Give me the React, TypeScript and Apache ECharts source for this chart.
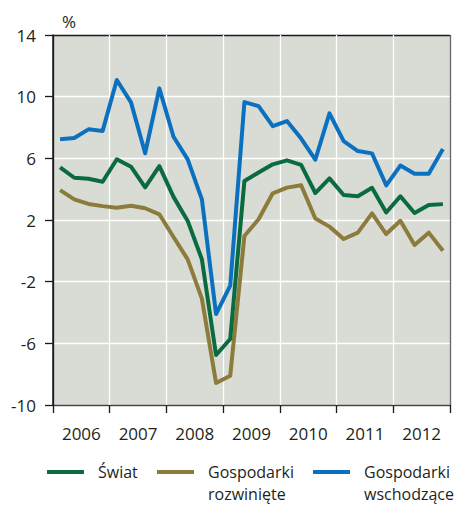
import React, { useEffect, useRef } from "react";
import * as echarts from "echarts";

const years = ["2006", "2007", "2008", "2009", "2010", "2011", "2012"];
const quartersPerYear = 4;
const yTicks = { min: -10, max: 14, step: 4 };

const world = [5.42, 4.74, 4.68, 4.48, 5.94, 5.46, 4.12, 5.5, 3.5, 1.94, -0.55, -6.76, -5.72, 4.53, 5.08, 5.61, 5.87, 5.57, 3.75, 4.7, 3.62, 3.54, 4.09, 2.49, 3.54, 2.45, 2.97, 3.03];
const developed = [3.94, 3.34, 3.04, 2.9, 2.8, 2.93, 2.76, 2.37, 0.9, -0.55, -3.1, -8.57, -8.1, 0.96, 2.05, 3.73, 4.1, 4.25, 2.1, 1.57, 0.77, 1.18, 2.43, 1.09, 1.95, 0.38, 1.18, 0.0];
const emerging = [7.24, 7.32, 7.88, 7.78, 11.08, 9.63, 6.33, 10.54, 7.4, 5.93, 3.34, -4.1, -2.26, 9.65, 9.39, 8.09, 8.42, 7.28, 5.91, 8.92, 7.12, 6.47, 6.32, 4.25, 5.53, 5.0, 5.0, 6.6];

const seriesNames = ["Świat", "Gospodarki\nrozwinięte", "Gospodarki\nwschodzące"];
const colors = ["#0b6b40", "#8d7b3b", "#0a70bf"];

const FONT = '"Open Sans", "Noto Sans", sans-serif';
const TEXT = "#231f20";

export default function App() {
  const ref = useRef<HTMLDivElement>(null);
  useEffect(() => {
    if (!ref.current) return;
    const chart = echarts.init(ref.current, undefined, { renderer: "svg" });
    const nQ = years.length * quartersPerYear;
    const toPts = (arr: number[]) => arr.map((v, i) => [i + 0.5, v]);
    const ySplitCount = (yTicks.max - yTicks.min) / yTicks.step + 1;
    const ySplitColors = Array.from({ length: ySplitCount }, (_, i) =>
      i === 0 ? "#555555" : i === ySplitCount - 1 ? "#1a1a1a" : "#ffffff"
    );
    const xSplitCount = years.length + 1;
    const xSplitColors = Array.from({ length: xSplitCount }, (_, i) =>
      i === 0 ? "#1a1a1a" : i === xSplitCount - 1 ? "#666666" : "#ffffff"
    );
    const data = [world, developed, emerging];

    const legendItems: any[] = [];
    const legendX = [47, 157, 313];
    seriesNames.forEach((name, i) => {
      legendItems.push({
        type: "line",
        shape: { x1: legendX[i], y1: 472, x2: legendX[i] + 37, y2: 472 },
        style: { stroke: colors[i], lineWidth: 4 },
      });
      legendItems.push({
        type: "text",
        x: legendX[i] + 51,
        y: 461,
        style: {
          text: name,
          font: `16px ${FONT}`,
          fill: TEXT,
          lineHeight: 22,
          textVerticalAlign: "top",
          verticalAlign: "top",
        },
      });
    });

    chart.setOption({
      animation: false,
      textStyle: { fontFamily: FONT },
      grid: {
        left: 53,
        top: 35,
        width: 397,
        height: 370,
        show: true,
        backgroundColor: "#d8dcd5",
        borderWidth: 0,
      },
      xAxis: [
        {
          type: "value",
          min: 0,
          max: nQ,
          interval: quartersPerYear,
          axisLine: { show: true, onZero: false, lineStyle: { color: "#444", width: 1 } },
          axisTick: { show: true, length: 8, lineStyle: { color: "#1a1a1a", width: 1.3 } },
          axisLabel: { show: false },
          splitLine: { show: true, lineStyle: { color: xSplitColors, width: 1.3 } },
        },
        {
          type: "category",
          data: years,
          position: "bottom",
          boundaryGap: true,
          axisLine: { show: false },
          axisTick: { show: false },
          splitLine: { show: false },
          axisLabel: { show: true, margin: 20, fontSize: 17, color: TEXT, fontFamily: FONT },
        },
      ],
      yAxis: {
        type: "value",
        min: yTicks.min,
        max: yTicks.max,
        interval: yTicks.step,
        axisLine: { show: true, lineStyle: { color: "#1a1a1a", width: 1.5 } },
        axisTick: { show: true, length: 8, lineStyle: { color: "#1a1a1a", width: 1.3 } },
        axisLabel: { margin: 17, fontSize: 17, color: TEXT, fontFamily: FONT },
        splitLine: { show: true, lineStyle: { color: ySplitColors, width: 1.3 } },
      },
      graphic: [
        {
          type: "text",
          x: 69,
          y: 21,
          style: {
            text: "%",
            font: `17px ${FONT}`,
            fill: TEXT,
            textAlign: "center",
            textVerticalAlign: "middle",
            align: "center",
            verticalAlign: "middle",
          },
        },
        ...legendItems,
      ],
      series: [2, 1, 0].map((i) => ({
        type: "line",
        name: seriesNames[i],
        xAxisIndex: 0,
        data: toPts(data[i]),
        showSymbol: false,
        symbol: "none",
        lineStyle: { color: colors[i], width: 4, join: "round" },
        itemStyle: { color: colors[i] },
      })),
    });
    return () => chart.dispose();
  }, []);
  return (
    <div
      ref={ref}
      style={{ position: "absolute", left: 0, top: 0, width: 457, height: 505 }}
    />
  );
}
